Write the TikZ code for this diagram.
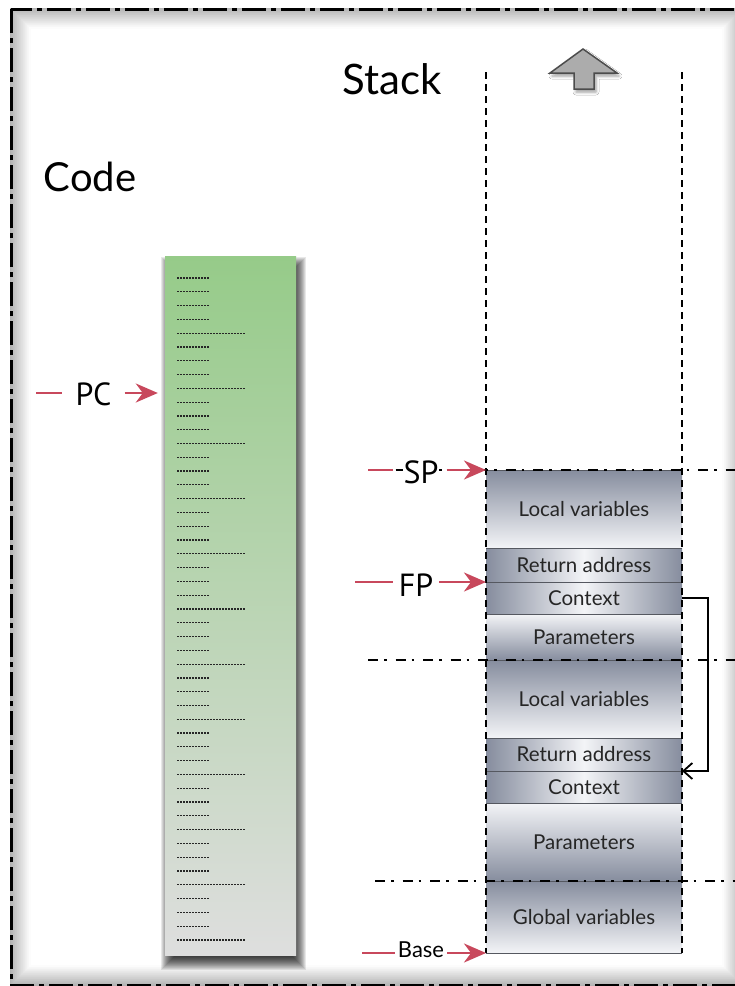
\documentclass[tikz,border=0pt]{standalone}
\usepackage{fontspec}
\setmainfont{Lato}
\newfontfamily\regfont{PT Sans}
\usetikzlibrary{positioning,shadows.blur,arrows.meta}

\definecolor{stackdark}{RGB}{134,141,158}
\definecolor{stacklight}{RGB}{243,244,247}
\definecolor{codetop}{RGB}{150,203,137}
\definecolor{codebottom}{RGB}{222,222,222}
\definecolor{regred}{RGB}{200,72,92}
\definecolor{sepgray}{RGB}{85,88,96}
\definecolor{arrowgray}{RGB}{172,172,172}

\tikzset{
  stackblock/.style={minimum width=196pt, inner sep=0pt, outer sep=0pt, text=black!85, font=\fontsize{20.5}{24}\selectfont},
  fadedown/.style={stackblock, top color=stackdark, bottom color=stacklight},
  fadeup/.style={stackblock, top color=stacklight, bottom color=stackdark},
  fadeside/.style={stackblock, left color=stackdark, right color=stackdark, middle color=stacklight},
  codecol/.style={minimum width=131pt, minimum height=699pt, inner sep=0pt, top color=codetop, bottom color=codebottom},
  codeshadow/.style={black, opacity=0.09},
  codeline/.style={line width=1.2pt, black!85, dash pattern=on 1.5pt off 1.5pt},
  sepline/.style={line width=1pt, sepgray},
  sidedash/.style={line width=1.3pt, dash pattern=on 7pt off 5pt},
  levelline/.style={line width=1.6pt, dash pattern=on 10pt off 6pt on 2.5pt off 9pt},
  outerframe/.style={line width=3pt, dash pattern=on 24pt off 5pt on 5pt off 5pt},
  title/.style={inner sep=0pt, font=\fontsize{40}{48}\selectfont},
  reglabel/.style={inner ysep=0pt, font=\regfont\fontsize{32}{38}\selectfont},
  baselabel/.style={inner xsep=3pt, inner ysep=0pt, font=\fontsize{22}{26}\selectfont},
  regline/.style={line width=2.4pt, regred},
  regarrow/.style={regline, -{Stealth[length=22pt, width=19pt, inset=7pt]}},
  linkarrow/.style={line width=1.8pt, -{Straight Barb[length=9pt, width=16pt]}},
  growarrow/.style={fill=arrowgray, draw=black!70, line width=1.5pt, line join=miter,
    blur shadow={shadow xshift=2pt, shadow yshift=-3pt, shadow blur radius=3pt}}
}

\begin{document}
\begin{tikzpicture}[x=1pt, y=-1pt, node distance=0pt]
  \clip (0,0) rectangle (735,986);
  \fill[white] (0,0) rectangle (735,986);

  % Rahmen mit Schatten
  \foreach \d [evaluate=\d as \tone using {int(30*(1-\d/20))}] in {0,...,19}
    \draw[line width=1.1pt, black!\tone] ({11+\d},{9+\d}) rectangle ({742-\d},{985-\d});
  \draw[outerframe] (11,9) rectangle (742,985);

  % Code
  \node[title] (codetitle) at (90,177) {Code};
  \foreach \s in {-7,...,7}
    \fill[codeshadow] ({168+\s},{264+\s}) rectangle ({299-\s},{963-\s});
  \node[codecol] (code) at (230.5,605.5) {};
  \foreach \i [evaluate=\i as \len using {ifthenelse(mod(\i,4)==0 && \i>0,68,33)}] in {0,...,48}
    \draw[codeline] (177,{278+13.79*\i}) -- ++(\len,0);

  % Stack
  \node[title, font=\fontsize{42}{50}\selectfont] (stacktitle) at (392,79) {Stack};
  \draw[growarrow] (583,49) -- (617,73) -- (594,73) -- (594,89) -- (574,89) -- (574,73) -- (550,73) -- cycle;

  \node[fadedown, minimum height=78pt, anchor=north west] (lv1) at (486,470) {Local variables};
  \node[fadeside, minimum height=34pt, below=of lv1] (ra1) {Return address};
  \node[fadeside, minimum height=32pt, below=of ra1] (ctx1) {Context};
  \node[fadeup, minimum height=46pt, below=of ctx1] (par1) {Parameters};
  \node[fadedown, minimum height=78pt, below=of par1] (lv2) {Local variables};
  \node[fadeside, minimum height=33pt, below=of lv2] (ra2) {Return address};
  \node[fadeside, minimum height=32pt, below=of ra2] (ctx2) {Context};
  \node[fadeup, minimum height=78pt, below=of ctx2] (par2) {Parameters};
  \node[fadedown, minimum height=72pt, below=of par2] (glob) {Global variables};

  \foreach \blk in {lv1,ra1,ctx1,par1,lv2,ra2,ctx2,par2,glob}
    \draw[sepline] (\blk.south west) -- (\blk.south east);
  \draw[sepline] (lv1.north west) -- (lv1.north east);

  \coordinate (stacktop) at (486,72);
  \draw[sidedash] (lv1.north west |- stacktop) -- (glob.south west);
  \draw[sidedash] (lv1.north east |- stacktop) -- (glob.south east);

  % Rahmengrenzen
  \draw[levelline] ([xshift=-118pt]lv1.north west) -- ([xshift=60pt]lv1.north east);
  \draw[levelline] ([xshift=-118pt]lv2.north west) -- ([xshift=60pt]lv2.north east);
  \draw[levelline] ([xshift=-111pt]glob.north west) -- ([xshift=60pt]glob.north east);

  % Register
  \node[reglabel, inner xsep=13pt] (pclab) at (93.5,394) {PC};
  \coordinate (pcfrom) at (36,393);
  \draw[regline] (pcfrom) -- (pcfrom -| pclab.west);
  \draw[regarrow, shorten >=7pt] (pclab.east |- pcfrom) -- (pcfrom -| code.west);

  \node[reglabel, inner xsep=1pt, fill=white] (splab) at (421,472) {SP};
  \coordinate (spfrom) at (368,470);
  \draw[regline] (spfrom) -- ([xshift=-9pt]spfrom -| splab.west);
  \draw[regarrow] ([xshift=7pt]splab.east |- spfrom) -- (lv1.north west);

  \node[reglabel, inner xsep=6pt] (fplab) at (416,585) {FP};
  \coordinate (fpfrom) at (355,582);
  \draw[regline] (fpfrom) -- (fpfrom -| fplab.west);
  \draw[regarrow] (fplab.east |- fpfrom) -- (ctx1.north west);

  \node[baselabel] (baselab) at (421,950) {Base};
  \coordinate (basefrom) at (362,953);
  \draw[regline] (basefrom) -- (basefrom -| baselab.west);
  \draw[regarrow] (baselab.east |- basefrom) -- (glob.south west);

  % Verweis auf vorherigen Kontext
  \draw[linkarrow] (ctx1.east) -- ++(26,0) |- (ctx2.north east);
\end{tikzpicture}
\end{document}
